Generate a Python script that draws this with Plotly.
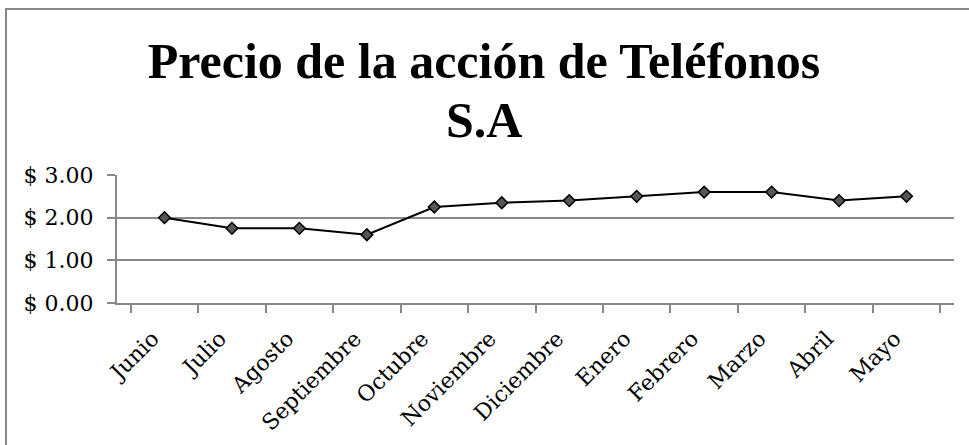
import plotly.graph_objects as go

months = ["Junio", "Julio", "Agosto", "Septiembre", "Octubre", "Noviembre",
          "Diciembre", "Enero", "Febrero", "Marzo", "Abril", "Mayo"]
prices = [2.00, 1.75, 1.75, 1.60, 2.25, 2.35, 2.40, 2.50, 2.60, 2.60, 2.40, 2.50]
y_ticks = [0, 1, 2, 3]
y_labels = ["$ 0.00", "$ 1.00", "$ 2.00", "$ 3.00"]

tick_font = "DejaVu Serif, serif"
title_font = "Liberation Serif, serif"

fig = go.Figure()
fig.add_trace(go.Scatter(
    x=months, y=prices, mode="lines+markers",
    line=dict(color="black", width=2),
    marker=dict(symbol="diamond", size=9, color="#555555",
                line=dict(color="black", width=1.5)),
    showlegend=False,
))

fig.update_layout(
    width=969, height=445,
    margin=dict(l=117, r=15, t=175, b=142, autoexpand=False),
    paper_bgcolor="white", plot_bgcolor="white",
    title=dict(
        text="Precio de la acción de Teléfonos",
        x=484 / 969, xref="container", xanchor="center",
        y=1 - 43 / 445, yref="container", yanchor="top",
        font=dict(family=title_font, size=50, color="black", weight="bold"),
    ),
    font=dict(family=tick_font, color="black"),
    # second title line, placed on its own to get the tighter line spacing
    annotations=[dict(text="<b>S.A</b>", xref="paper", yref="paper",
                      x=(484 - 117) / 837, y=(303 - 120) / 128,
                      xanchor="center", yanchor="middle", showarrow=False,
                      font=dict(family=title_font, size=50, color="black"))],
    # outer chart border (right and bottom edges fall outside the picture)
    shapes=[dict(type="rect", xref="paper", yref="paper",
                 x0=-111 / 837, x1=1.2, y0=-1.5, y1=294 / 128,
                 line=dict(color="#888888", width=2), layer="below")],
)

fig.update_xaxes(
    type="category", showgrid=False, showline=True, linecolor="#888888", linewidth=2,
    ticks="outside", ticklen=8, tickcolor="#888888", tickwidth=2,
    tickson="boundaries", tickangle=-45, tickfont=dict(size=22),
    ticklabelstandoff=12, ticklabelshift=-12,
)
fig.update_yaxes(
    range=[0, 3], tickvals=y_ticks, ticktext=y_labels,
    showgrid=True, gridcolor="#888888", gridwidth=2,
    showline=True, linecolor="#888888", linewidth=2, zeroline=False,
    ticks="outside", ticklen=8, tickcolor="#888888", tickwidth=2,
    ticklabelstandoff=9, tickfont=dict(size=22),
)

fig.write_html("out.html", config={"displayModeBar": False},
               post_script="document.body.style.margin='0';")
